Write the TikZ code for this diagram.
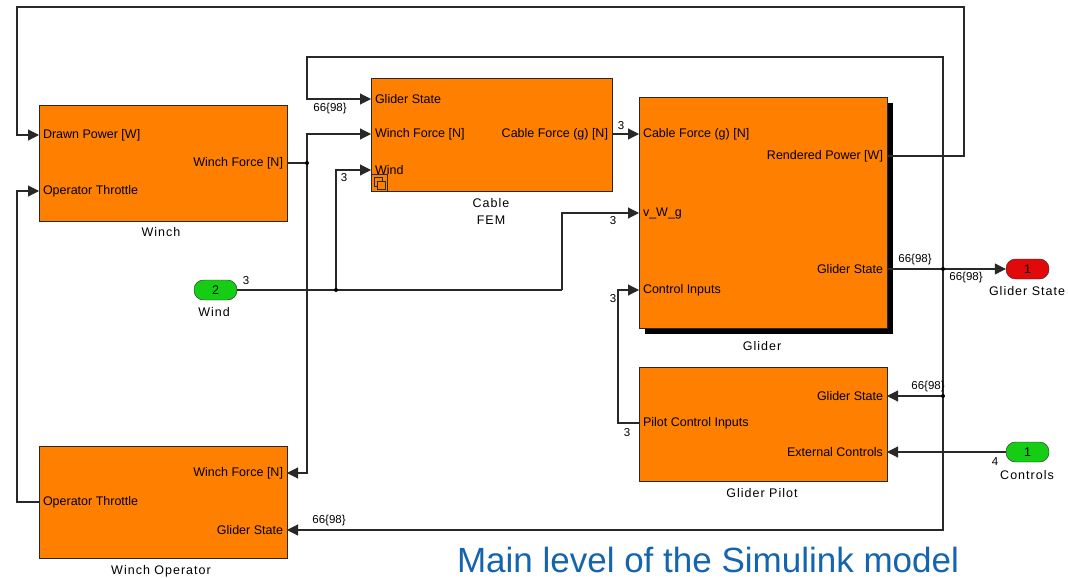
\documentclass[tikz,border=0pt]{standalone}
\usepackage{fontspec}
\setmainfont{Liberation Sans}
\newfontfamily\capfont[LetterSpace=8]{Liberation Sans}
\usepackage{xcolor}
\usetikzlibrary{arrows.meta, calc}
\definecolor{blkorange}{RGB}{255,128,0}
\definecolor{inportgreen}{RGB}{20,205,20}
\definecolor{outportred}{RGB}{225,10,10}
\definecolor{captionblue}{RGB}{20,100,175}
\definecolor{wiregray}{RGB}{40,40,40}

\begin{document}
\begin{tikzpicture}[x = 1pt, y = -1pt,
    block/.style = {draw = wiregray, fill = blkorange, line width = 0.9pt, inner sep = 0pt, anchor = north west},
    lport/.style = {anchor = west, inner sep = 0pt, outer xsep = 4pt, outer ysep = 0pt, font = \fontsize{12.5}{13}\selectfont},
    rport/.style = {anchor = east, inner sep = 0pt, outer xsep = 4pt, outer ysep = 0pt, font = \fontsize{12.5}{13}\selectfont},
    wire/.style = {draw = wiregray, line width = 1.1pt},
    sig/.style = {wire, -{Triangle[length = 11pt, width = 11pt]}},
    dot/.style = {circle, fill = black, inner sep = 0pt, minimum size = 4pt},
    blkname/.style = {inner sep = 0pt, font = \capfont\fontsize{12.5}{15}\selectfont},
    siglbl/.style = {inner sep = 0pt, font = \fontsize{11.5}{12}\selectfont},
    port/.style = {draw = wiregray, rounded corners = 9.5pt, minimum width = 43pt, minimum height = 20pt, inner sep = 0pt, font = \fontsize{12.5}{13}\selectfont}]
            \useasboundingbox (0,0) rectangle (1068,578);
            \fill[black] (645,103) rectangle (893,334);
            \node[block, minimum width = 248pt, minimum height = 116pt] (winch) at (39,105) {};
            \node[block, minimum width = 241pt, minimum height = 113pt] (cable) at (371,78) {};
            \node[block, minimum width = 248pt, minimum height = 231pt] (glider) at (639,97) {};
            \node[block, minimum width = 248pt, minimum height = 114pt] (pilot) at (639,367) {};
            \node[block, minimum width = 248pt, minimum height = 112pt] (operator) at (39,446) {};
            \draw[wiregray] (371,174) rectangle (387,191);
            \draw[wiregray] (374,177) rectangle (382,186);
            \draw[wiregray, fill = blkorange] (377,181) rectangle (385,189);
            \node[lport] (wDP) at (39,135) {Drawn Power [W]};
            \node[lport] (wOT) at (39,191) {Operator Throttle};
            \node[rport] (wWF) at (287,163) {Winch Force [N]};
            \node[lport] (cGS) at (371,99) {Glider State};
            \node[lport] (cWF) at (371,134) {Winch Force [N]};
            \node[lport] (cWd) at (371,170) {Wind};
            \node[rport] (cCF) at (612,134) {Cable Force (g) [N]};
            \node[lport] (gCF) at (639,134) {Cable Force (g) [N]};
            \node[lport] (gVW) at (639,213) {v\_W\_g};
            \node[lport] (gCI) at (639,290) {Control Inputs};
            \node[rport] (gRP) at (887,156) {Rendered Power [W]};
            \node[rport] (gGS) at (887,269) {Glider State};
            \node[rport] (gpGS) at (887,396) {Glider State};
            \node[lport] (gpPCI) at (639,423) {Pilot Control Inputs};
            \node[rport] (gpEC) at (887,452) {External Controls};
            \node[rport] (woWF) at (287,473) {Winch Force [N]};
            \node[lport] (woOT) at (39,502) {Operator Throttle};
            \node[rport] (woGS) at (287,530) {Glider State};
            \node[port, fill = inportgreen] (wind) at (215.5,290) {2};
            \node[port, fill = outportred] (gsout) at (1027.5,269) {1};
            \node[port, fill = inportgreen] (ctrl) at (1027.5,452) {1};
            \node[blkname] (nWinch) at (161,232) {Winch};
            \node[blkname] (nCable) at (491,203) {Cable};
            \node[blkname] (nFEM) at (491,220) {FEM};
            \node[blkname] (nGlider) at (762,346) {Glider};
            \node[blkname] (nPilot) at (762,493) {Glider Pilot};
            \node[blkname] (nOperator) at (161,571) {Winch Operator};
            \node[blkname] (nWind) at (214,312) {Wind};
            \node[blkname] (nGSout) at (1027,291) {Glider State};
            \node[blkname] (nCtrl) at (1027,475) {Controls};
            \coordinate (jWF) at (307,163);
            \coordinate (jWind) at (336,290);
            \coordinate (jGS) at (943,269);
            \coordinate (jGP) at (943,396);
            \coordinate (topR) at (964,7);
            \coordinate (topL) at (17,7);
            \coordinate (topC) at (307,57);
            \coordinate (topCR) at (943,57);
            \coordinate (bWind) at (562,290);
            \coordinate (bPCI) at (618,423);
            \coordinate (bOT) at (17,502);
            \draw[sig] (gRP.east) -| (topR) -- (topL) |- (wDP.west);
            \draw[wire] (wWF.east) -- (jWF);
            \draw[sig] (jWF) |- (cWF.west);
            \draw[sig] (jWF) |- (woWF.east);
            \draw[wire] (wind.east) -- (bWind);
            \draw[sig] (bWind) |- (gVW.west);
            \draw[sig] (jWind) |- (cWd.west);
            \draw[sig] (cCF.east) -- (gCF.west);
            \draw[sig] (gGS.east) -- (gsout.west);
            \draw[sig] (jGS) -- (topCR) -- (topC) |- (cGS.west);
            \draw[sig] (jGS) |- (woGS.east);
            \draw[sig] (jGP) -- (gpGS.east);
            \draw[sig] (gpPCI.west) -- (bPCI) |- (gCI.west);
            \draw[sig] (woOT.west) -- (bOT) |- (wOT.west);
            \draw[sig] (ctrl.west) -- (gpEC.east);
            \node[dot] (dWF) at (jWF) {};
            \node[dot] (dWind) at (jWind) {};
            \node[dot] (dGS) at (jGS) {};
            \node[dot] (dGP) at (jGP) {};
            \node[siglbl] (l1) at (330,109) {66\{98\}};
            \node[siglbl] (l2) at (344,178) {3};
            \node[siglbl] (l3) at (621,126) {3};
            \node[siglbl] (l4) at (613,221) {3};
            \node[siglbl] (l5) at (246,281) {3};
            \node[siglbl] (l6) at (613,299) {3};
            \node[siglbl] (l7) at (915,260) {66\{98\}};
            \node[siglbl] (l8) at (966,278) {66\{98\}};
            \node[siglbl] (l9) at (928,387) {66\{98\}};
            \node[siglbl] (l10) at (627,433) {3};
            \node[siglbl] (l11) at (995,462) {4};
            \node[siglbl] (l12) at (329,521) {66\{98\}};
            \node[anchor = base, inner sep = 0pt, text = captionblue, font = \fontsize{35}{40}\selectfont] (title) at (708,572) {Main level of the Simulink model};
        \end{tikzpicture}
\end{document}
